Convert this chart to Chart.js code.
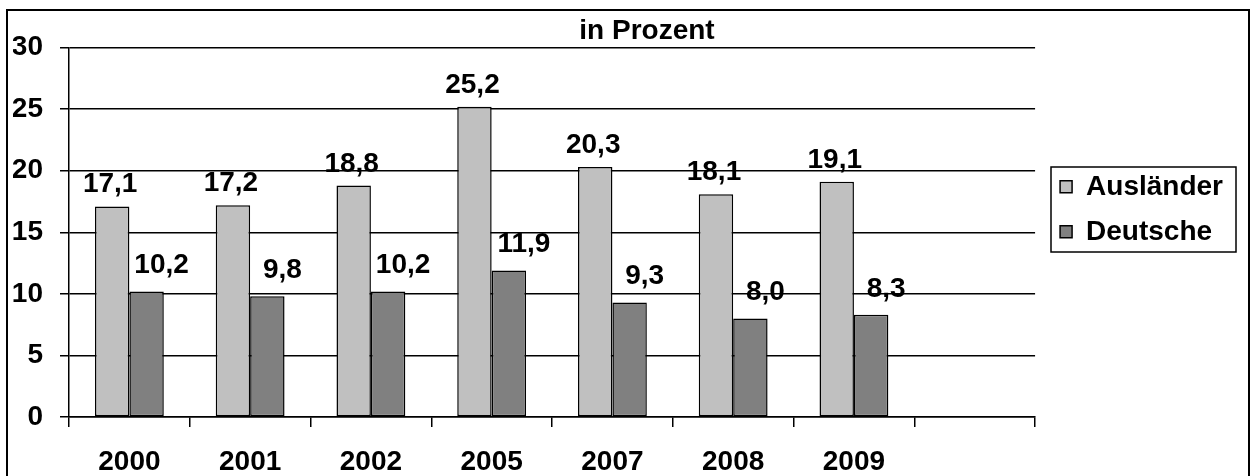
<!DOCTYPE html>
<html lang="de">
<head>
<meta charset="UTF-8">
<title>in Prozent</title>
<script src="https://cdn.jsdelivr.net/npm/chart.js"></script>
<style>
  html, body { margin: 0; padding: 0; background: #fff; }
  #wrap { width: 1251px; height: 476px; position: relative; }
</style>
</head>
<body>
<div id="wrap"><canvas id="chart"></canvas></div>
<script>
// Werte (letzte Kategorie bleibt leer)
const years = ['2000', '2001', '2002', '2005', '2007', '2008', '2009', ''];
const auslaender = [17.1, 17.2, 18.8, 25.2, 20.3, 18.1, 19.1, null];
const deutsche = [10.2, 9.8, 10.2, 11.9, 9.3, 8.0, 8.3, null];
const yTicks = [0, 5, 10, 15, 20, 25, 30];
const seriesNames = ['Ausländer', 'Deutsche'];
const titleText = 'in Prozent';

const FONT = '"Liberation Sans", Arial, sans-serif';
const boldFont = { family: FONT, size: 28, weight: 'bold' };

// Rahmen um das ganze Diagramm
const frame = {
    id: 'frame',
    beforeDraw(chart) {
        const ctx = chart.ctx;
        ctx.save();
        ctx.strokeStyle = '#000';
        ctx.lineWidth = 2;
        ctx.strokeRect(7, 10, 1242, 520);
        ctx.restore();
    }
};

// Titel und Legende etwas verschieben wie im Original
const placeBoxes = {
    id: 'placeBoxes',
    afterLayout(chart) {
        if (chart.titleBlock) {
            chart.titleBlock.left += 28;
            chart.titleBlock.right += 28;
        }
        if (chart.legend) {
            chart.legend.top -= 23;
            chart.legend.bottom -= 23;
            chart.legend.left += 8;
            chart.legend.right += 8;
        }
    },
    afterDraw(chart) {
        const boxes = chart.legend && chart.legend.legendHitBoxes;
        if (!boxes || !boxes.length) return;
        const ctx = chart.ctx;
        let right = 0;
        boxes.forEach(b => { right = Math.max(right, b.left + b.width); });
        const first = boxes[0], last = boxes[boxes.length - 1];
        ctx.save();
        ctx.strokeStyle = '#000';
        ctx.lineWidth = 1.5;
        ctx.strokeRect(Math.round(first.left - 9), Math.round(first.top - 6),
            Math.round(right + 13 - first.left + 9), Math.round(last.top + last.height + 6 - first.top + 6));
        ctx.restore();
    }
};

// Werte über den Balken
const valueLabels = {
    id: 'valueLabels',
    afterDatasetsDraw(chart) {
        const ctx = chart.ctx;
        ctx.save();
        ctx.font = 'bold 28px ' + FONT;
        ctx.fillStyle = '#000';
        ctx.textAlign = 'center';
        ctx.textBaseline = 'alphabetic';
        chart.data.datasets.forEach((ds, i) => {
            const meta = chart.getDatasetMeta(i);
            meta.data.forEach((bar, j) => {
                const v = ds.data[j];
                if (v == null) return;
                const dx = i === 1 ? 15 : -2;
                const gap = i === 1 ? 18 : 14;
                ctx.fillText(v.toFixed(1).replace('.', ','), bar.x + dx, bar.y - gap);
            });
        });
        ctx.restore();
    }
};

new Chart(document.getElementById('chart'), {
    type: 'bar',
    data: {
        labels: years,
        datasets: [
            { label: seriesNames[0], data: auslaender, backgroundColor: '#c0c0c0', borderColor: '#000', borderWidth: 1.5, borderSkipped: false },
            { label: seriesNames[1], data: deutsche, backgroundColor: '#808080', borderColor: '#000', borderWidth: 1.5, borderSkipped: false }
        ]
    },
    options: {
        responsive: true,
        maintainAspectRatio: false,
        animation: false,
        layout: { padding: { left: 13, right: 26, top: 0, bottom: 2 } },
        datasets: { bar: { categoryPercentage: 0.57, barPercentage: 1 } },
        scales: {
            x: {
                offset: true,
                afterFit(scale) { scale.height = 57; },
                grid: { drawOnChartArea: false, drawTicks: true, tickLength: 10, color: '#000', lineWidth: 1.5, offset: true },
                border: { color: '#000', width: 1.5 },
                ticks: { color: '#000', font: boldFont, padding: 18, maxRotation: 0, autoSkip: false }
            },
            y: {
                min: yTicks[0],
                max: yTicks[yTicks.length - 1],
                afterFit(scale) { scale.width = 56; },
                afterBuildTicks(scale) { scale.ticks = yTicks.map(v => ({ value: v })); },
                ticks: { color: '#000', font: boldFont, padding: 17 },
                grid: { color: '#000', lineWidth: 1.5, tickLength: 9 },
                border: { color: '#000', width: 1.5 }
            }
        },
        plugins: {
            title: { display: true, text: titleText, color: '#000', font: boldFont, padding: { top: 14, bottom: 0 } },
            legend: {
                position: 'right',
                fullSize: false,
                labels: { boxWidth: 12, boxHeight: 12, padding: 17, color: '#000', font: boldFont }
            },
            tooltip: { enabled: false }
        }
    },
    plugins: [frame, valueLabels, placeBoxes]
});
</script>
</body>
</html>
